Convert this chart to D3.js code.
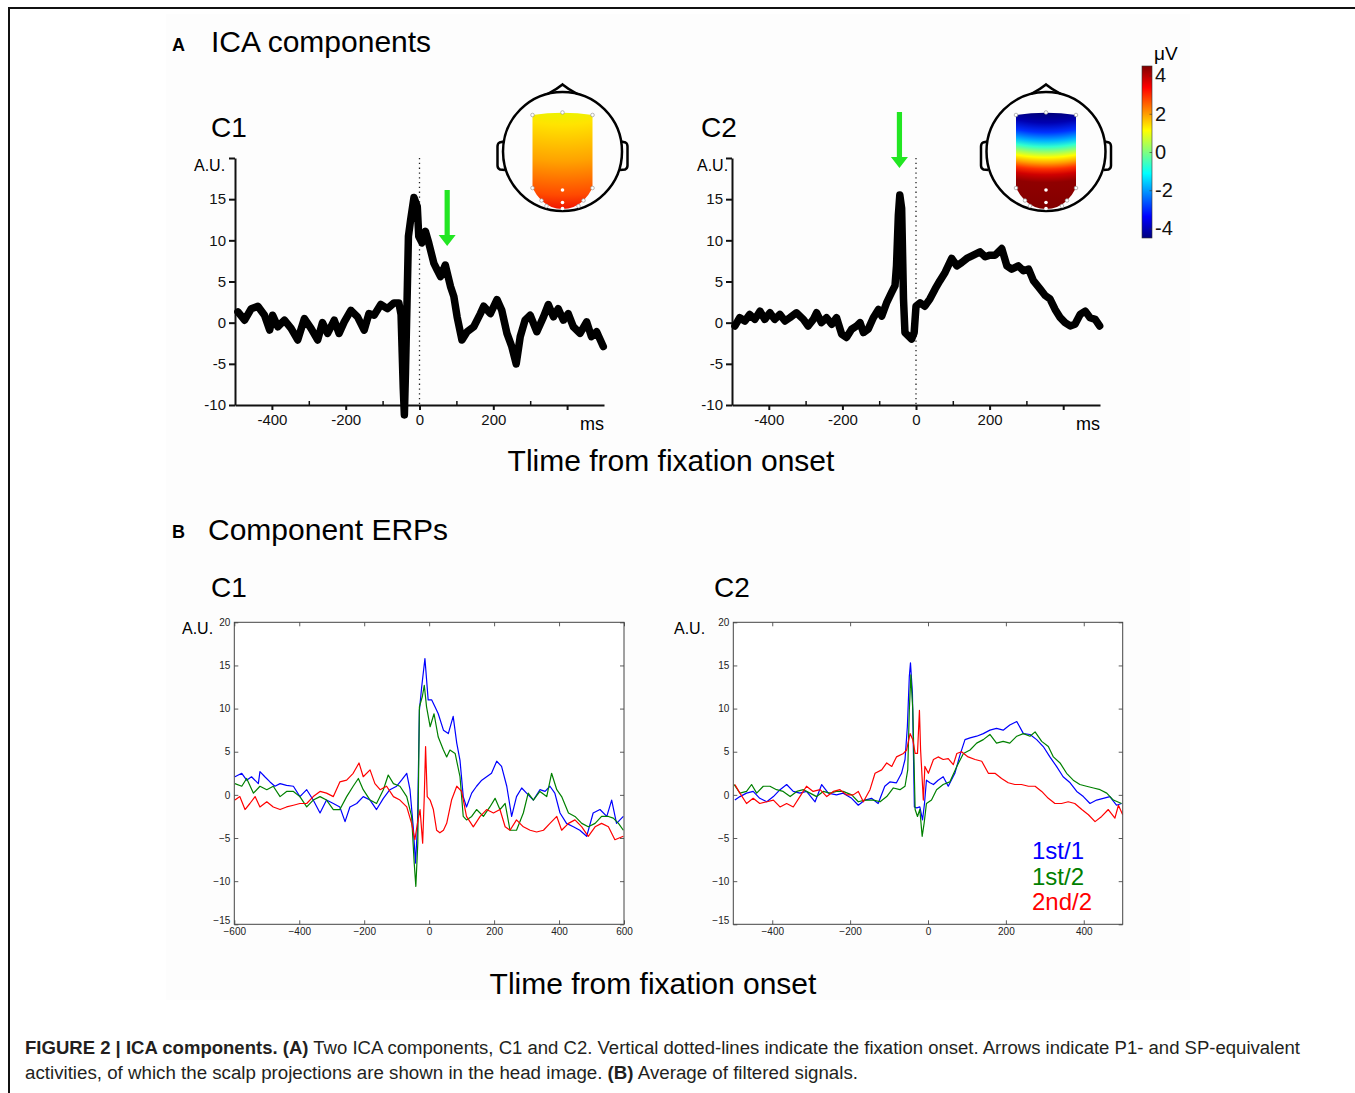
<!DOCTYPE html>
<html>
<head>
<meta charset="utf-8">
<script src="https://cdn.jsdelivr.net/npm/d3@7"></script>
<style>
  html, body { margin: 0; padding: 0; background: #ffffff; }
  svg { display: block; }
  text { font-family: "Liberation Sans", Arial, sans-serif; }
</style>
</head>
<body>
<svg id="fig" width="1355" height="1093"></svg>
<script>
// ---------------- DATA ----------------
// Panel A, component C1 (A.U. vs ms)
const compC1Times = [-492,-474,-456,-438,-420,-406,-398,-384,-366,-348,-330,-312,-294,-276,-263,-249,-231,-218,-204,-186,-168,-150,-137,-123,-105,-87,-69,-56,-50,-44,-41,-38,-34,-30,-24,-15,-6,-2,7,16,25,39,48,57,70,84,93,102,115,129,147,165,174,192,210,223,237,250,262,273,286,300,318,336,349,363,376,390,403,417,435,453,466,480,498];
const compC1Values = [1.3,0.3,1.7,2,0.9,-0.9,0.9,-0.5,0.3,-0.7,-2.1,0.5,-0.7,-2.1,0,-1.3,0.3,-1.3,0.1,1.5,0.7,-0.9,1.1,0.9,2.2,1.7,2.4,2.4,1.0,-8,-11.2,-6,2,10.5,12.5,15.2,14.1,10.5,9.7,11.1,9.7,7.2,6.4,5.6,7,4.4,3.2,0.7,-2.1,-1.1,-0.5,1.1,2,1.1,2.8,1.5,-1.3,-2.9,-5,-1.7,0.3,0.9,-1.1,0.7,2.2,0.7,1.7,0.3,1.1,-0.5,-1.3,0.1,-1.7,-1.1,-2.9];
// Panel A, component C2
const compC2Times = [-492,-479,-465,-452,-438,-424,-411,-397,-384,-370,-356,-343,-325,-306,-293,-279,-270,-257,-243,-229,-216,-202,-189,-175,-161,-152,-143,-130,-116,-102,-93,-80,-66,-57,-53,-48,-44,-39,-34,-30,-21,-12,-5,0,11,24,38,52,65,79,97,111,124,138,156,174,188,201,215,233,247,260,278,292,306,319,337,351,364,378,392,405,419,432,446,460,473,487,499];
const compC2Values = [-0.4,0.6,0.2,1,0.4,1.4,0.4,1.2,0.4,1,0.2,0.6,1.2,0.4,-0.4,0.4,1.2,0,0.6,-0.2,0.6,-1.4,-1.8,-0.8,-0.4,0,-1.2,-0.8,0.6,1.6,0.8,2.4,3.7,4.5,6.9,13,15.5,13.9,2.9,-1.2,-1.6,-2,-1.2,2,2.4,2,2.9,4.1,5.1,6.1,7.8,6.9,7.3,7.8,8.2,8.6,8,8.2,8.2,9,6.9,6.5,6.9,6.3,6.5,5.1,4.1,3.3,2.9,1.6,0.6,0,-0.4,-0.2,1,1.4,0.6,0.4,-0.4];

// Panel B, C1 ERPs
const erpC1BlueTimes = [-598,-577,-562,-547,-526,-521,-506,-490,-475,-459,-439,-418,-398,-377,-357,-336,-316,-295,-275,-259,-244,-223,-203,-182,-162,-141,-121,-100,-85,-69,-59,-49,-42,-36,-30,-23,-13,-3,8,18,28,44,59,74,85,95,105,115,131,146,162,177,192,208,223,239,254,269,285,300,321,341,357,372,387,403,423,444,464,485,505,526,547,562,577,598];
const erpC1BlueValues = [2.1,2.5,1.7,2.1,1.3,2.7,2.1,1.5,1,1.3,1.1,1,-0.2,0.6,-0.6,-2.1,-0.6,-1,-1.4,-3.1,-1.4,-1,-0.2,-0.6,-1.7,-0.4,0.6,1,1.7,2.5,0.6,-3.7,-7.9,-3.7,9.8,12.5,15.8,11,11,10.2,9.4,7.5,7.1,9.1,6,4,-0.2,-1.4,0.2,1,1.7,2.1,2.5,3.9,3.3,1,-2.5,-0.2,0.8,0.2,-0.6,0.6,0.4,1,0.2,-2.1,-3.3,-3.7,-4.1,-4.8,-2.1,-1.7,-2.5,-0.6,-3.3,-2.5];
const erpC1GreenTimes = [-598,-577,-562,-541,-521,-500,-480,-459,-439,-418,-398,-377,-357,-336,-316,-295,-275,-254,-234,-218,-203,-182,-162,-141,-126,-110,-90,-69,-54,-46,-41,-35,-30,-21,-15,-8,3,15,28,44,54,64,80,95,105,115,131,146,167,187,203,218,234,249,269,290,305,321,341,362,377,393,408,429,449,470,490,511,531,552,567,583,598];
const erpC1GreenValues = [1.3,1,1.9,0.2,1,0.6,1,-0.2,0.4,0.4,-0.2,-1.4,-0.6,-0.2,-0.6,-1.7,-1.7,-0.2,1,1.9,0.6,-0.6,-1,0.6,2.3,1.3,1,-0.2,-2.5,-7.9,-10.6,-5.6,10.2,11.4,12.7,10.2,7.9,9.4,6.7,5.2,4.4,5.2,4.8,2.1,-2.5,-2.9,-2.5,-1.7,-2.5,-1.4,-0.4,-1.7,-1,-4.1,-4.1,-2.1,0.2,-0.6,0.4,-0.2,2.5,0.6,-0.2,-2.1,-2.5,-3.3,-3.7,-3.3,-2.5,-2.5,-2.7,-3.3,-4.1];
const erpC1RedTimes = [-598,-583,-567,-552,-536,-521,-500,-480,-459,-439,-418,-398,-377,-357,-336,-316,-295,-275,-254,-234,-216,-203,-182,-167,-151,-131,-110,-90,-69,-54,-44,-36,-28,-20,-15,-11,-6,3,13,23,33,44,54,69,85,100,115,136,157,177,198,218,234,249,269,290,311,331,352,372,393,408,429,449,470,490,511,531,552,572,598];
const erpC1RedValues = [-0.6,-0.2,-1.7,-1,-0.2,-1.4,-0.8,-1.4,-1.7,-1.4,-1.2,-1,-1,-0.2,0.4,0.2,-0.2,1.5,1.7,2.5,3.7,2.1,2.9,1.3,0.6,1,-0.2,-0.6,-1.4,-3.3,-5.2,-3.3,-1.7,-5.6,-0.2,5.6,-0.2,-0.6,-1.7,-4.1,-4.4,-4.1,-3.3,-0.6,1,0.4,-2.5,-3.7,-2.5,-1.7,-2.1,-1.7,-3.7,-4.1,-2.9,-3.7,-4.1,-4.3,-4.1,-3.3,-2.5,-4.1,-3.3,-2.9,-3.7,-4.8,-3.7,-3.3,-3.7,-5.2,-4.8];

// Panel B, C2 ERPs
const erpC2BlueTimes = [-496,-483,-466,-449,-432,-414,-397,-380,-363,-346,-329,-312,-290,-273,-256,-235,-218,-196,-179,-162,-145,-128,-111,-98,-81,-68,-59,-53,-48,-45,-40,-35,-29,-21,-14,-9,-4,5,14,26,39,52,69,82,95,108,125,142,159,176,193,210,228,245,262,279,296,313,330,347,365,382,399,416,433,450,467,484,497];
const erpC2BlueValues = [-0.6,-0.2,0.2,0.4,-0.4,-0.8,-0.2,0.6,1.2,0.4,0.2,0.4,-0.8,1.2,0.2,0,0.2,-0.4,-1.2,-0.6,-0.4,-1,1,1.5,1.4,2.5,4.1,7.9,13.7,15.3,11.8,-1.4,-1.5,-1.4,-2.9,-1,1.7,1.4,1.2,1.7,2.1,1,2.5,4.6,6.4,6.6,6.8,7.1,7.5,7.7,7.5,8.1,8.5,7.1,7,6.4,5.6,4.4,3.3,2.1,1.4,0.4,-0.2,-1,-0.6,-0.4,-0.2,-1.2,-1];
const erpC2GreenTimes = [-498,-483,-466,-453,-440,-423,-406,-389,-372,-354,-337,-320,-303,-286,-269,-252,-235,-218,-196,-179,-162,-140,-123,-106,-89,-72,-59,-52,-48,-44,-39,-33,-27,-21,-15,-10,-4,9,22,39,56,74,91,108,125,142,159,176,193,210,228,245,262,275,292,309,322,339,356,373,390,407,425,442,459,476,497];
const erpC2GreenValues = [1.2,0.2,0.4,1.2,0.2,1,1,0.6,0.4,-0.2,0.4,0.6,0.2,-0.2,0.4,0.2,0.4,0.4,0,-0.8,-0.6,-0.6,-0.8,-0.2,0.8,0.6,1,2.9,9.8,13.9,9.8,-1.7,-2.5,-1.7,-4.8,-3.3,-1,-0.6,0.6,1.2,1.5,3.3,4.8,5.2,6,6.4,7,6,6.2,6,6.8,7.1,6.8,7.3,6.2,5.6,4.4,3.7,2.5,1.7,1.2,1,0.8,0.6,0.2,-0.6,-1];
const erpC2RedTimes = [-496,-483,-466,-449,-432,-414,-397,-380,-363,-346,-329,-312,-295,-277,-260,-243,-226,-209,-192,-179,-166,-149,-136,-119,-106,-93,-81,-63,-55,-46,-39,-33,-27,-22,-19,-12,-8,1,14,26,39,52,65,74,86,103,121,138,155,172,189,206,223,240,258,275,292,309,326,343,360,377,395,412,429,446,463,480,489,500];
const erpC2RedValues = [1.2,0.2,-1,-0.4,-1,-0.8,-0.6,-1.4,-1,-1.4,-0.2,1,0.4,0.6,-0.2,0.4,0.6,0,0,0.4,-0.8,0.6,2.5,2.9,3.7,3.3,4.4,4.8,5.2,7.1,6.4,4.8,4.8,9.8,5.2,-0.6,3.3,2.5,4.1,4.4,4.1,4.2,3.5,4.8,5,4.4,4.1,3.9,2.5,2.5,1.9,1.4,1.2,1.2,1,1,0.4,-0.4,-1,-1,-0.8,-1,-1.7,-2.3,-3.1,-2.5,-1.7,-2.7,-1.2,-2.3];

// Tick values / labels
const compYTicks = [-10, -5, 0, 5, 10, 15, 20];
const compXMajorTicks = [-400, -200, 0, 200, 400];
const compXMinorTicks = [-300, -100, 100, 300];
const erpYTicks = [-15, -10, -5, 0, 5, 10, 15, 20];
const erpC1XTicks = [-600, -400, -200, 0, 200, 400, 600];
const erpC2XTicks = [-400, -200, 0, 200, 400];
const colorbarTicks = [-4, -2, 0, 2, 4];
const legendLabels = ["1st/1", "1st/2", "2nd/2"];
const seriesColors = ["#0000ff", "#008000", "#ff0000"];
// Arrows: time, value at tail, value at tip
const arrowC1 = [75, 16.1, 9.3];
const arrowC2 = [-45, 25.6, 18.8];
// jet colormap stops
const jetStops = [[0, "#00007f"], [0.125, "#0000ff"], [0.375, "#00ffff"], [0.625, "#ffff00"], [0.875, "#ff0000"], [1, "#7f0000"]];
// topography colour stops (fraction from top of scalp patch)
const topoC1Stops = [[0, "#eef200"], [0.12, "#ffe400"], [0.5, "#ffa200"], [0.85, "#ff4a00"], [1, "#f01400"]];
const topoC2Stops = [[0, "#00007a"], [0.1, "#0000b0"], [0.2, "#0030ff"], [0.29, "#00b4ff"], [0.35, "#30ffd0"], [0.41, "#a0ff60"], [0.46, "#ffff00"], [0.52, "#ffa000"], [0.58, "#ff3000"], [0.64, "#d00000"], [0.72, "#900000"], [1, "#820000"]];

// ---------------- DRAWING ----------------
const svg = d3.select("#fig");
const defs = svg.append("defs");
const FONT = '"Liberation Sans", Arial, sans-serif';

// outer frame lines
svg.append("line").attr("x1", 8).attr("x2", 1355).attr("y1", 8).attr("y2", 8).attr("stroke", "#111").attr("stroke-width", 2);
svg.append("line").attr("x1", 9).attr("x2", 9).attr("y1", 8).attr("y2", 1093).attr("stroke", "#111").attr("stroke-width", 2);
// faint image background
svg.append("rect").attr("x", 166).attr("y", 14).attr("width", 1024).attr("height", 986).attr("fill", "#fdfdfd");

// section titles
svg.append("text").attr("x", 172).attr("y", 51).attr("font-size", 18).attr("font-weight", "bold").text("A");
svg.append("text").attr("x", 211).attr("y", 52).attr("font-size", 30).text("ICA components");
svg.append("text").attr("x", 172).attr("y", 538).attr("font-size", 18).attr("font-weight", "bold").text("B");
svg.append("text").attr("x", 208).attr("y", 540).attr("font-size", 30).text("Component ERPs");

// ---------- Panel A ----------
function compPanel(x0, x1, times, values, title, titleX, arrow, auX) {
  const x = d3.scaleLinear().domain([-500, 500]).range([x0, x1]);
  const y = d3.scaleLinear().domain([-10, 20]).range([405, 158]);
  const g = svg.append("g");
  g.append("text").attr("x", titleX).attr("y", 137).attr("font-size", 28).text(title);
  // y axis
  const ya = g.append("g").attr("transform", `translate(${x0},0)`)
    .call(d3.axisLeft(y).tickValues(compYTicks).tickSizeInner(6).tickSizeOuter(0).tickPadding(3)
      .tickFormat(d => d === 20 ? "" : d));
  ya.selectAll("path, line").attr("stroke", "#111").attr("stroke-width", 2);
  ya.selectAll("text").attr("font-size", 15).attr("font-family", FONT).attr("fill", "#111");
  g.append("text").attr("x", auX).attr("y", 171).attr("font-size", 16).text("A.U.");
  // x axis
  const xa = g.append("g").attr("transform", `translate(0,405)`)
    .call(d3.axisBottom(x).tickValues(compXMajorTicks).tickSizeInner(5).tickSizeOuter(0).tickPadding(4)
      .tickFormat(d => d === 400 ? "" : d));
  xa.selectAll("path, line").attr("stroke", "#111").attr("stroke-width", 2);
  xa.selectAll("text").attr("font-size", 15).attr("font-family", FONT).attr("fill", "#111");
  const xm = g.append("g").attr("transform", `translate(0,405)`)
    .call(d3.axisBottom(x).tickValues(compXMinorTicks).tickSize(-4).tickFormat(""));
  xm.select(".domain").remove();
  xm.selectAll("line").attr("stroke", "#111").attr("stroke-width", 1.5);
  g.append("text").attr("x", x(500)).attr("y", 430).attr("font-size", 18).attr("text-anchor", "end").text("ms");
  // dotted onset line
  g.append("line").attr("x1", x(0)).attr("x2", x(0)).attr("y1", y(20)).attr("y2", y(-10))
    .attr("stroke", "#222").attr("stroke-width", 1.3).attr("stroke-dasharray", "1.3,3.5");
  // trace
  const pts = times.map((t, i) => [t, values[i]]);
  g.append("path").datum(pts)
    .attr("d", d3.line().x(d => x(d[0])).y(d => y(d[1])))
    .attr("fill", "none").attr("stroke", "#000").attr("stroke-width", 7.5)
    .attr("stroke-linejoin", "round").attr("stroke-linecap", "round");
  // green arrow
  const ax = x(arrow[0]), yt = y(arrow[1]), yp = y(arrow[2]);
  const hh = 11, hw = 8.5, sw = 2.6;
  g.append("path")
    .attr("d", `M${ax - sw},${yt} L${ax + sw},${yt} L${ax + sw},${yp - hh} L${ax + hw},${yp - hh} L${ax},${yp} L${ax - hw},${yp - hh} L${ax - sw},${yp - hh} Z`)
    .attr("fill", "#22e622");
}
compPanel(235, 604, compC1Times, compC1Values, "C1", 211, arrowC1, 194);
compPanel(732, 1100, compC2Times, compC2Values, "C2", 701, arrowC2, 697);

svg.append("text").attr("x", 671).attr("y", 471).attr("font-size", 30).attr("text-anchor", "middle").text("Tlime from fixation onset");

// ---------- Heads ----------
function makeGradient(id, stops, cx, cy) {
  // radial gradient centred above the head so bands curve slightly
  const gcx = cx, gcy = cy - 170, R = 170 + 58;
  const top = 170 - 38.5, span = 58 + 38.5;
  const grad = defs.append("radialGradient").attr("id", id).attr("gradientUnits", "userSpaceOnUse")
    .attr("cx", gcx).attr("cy", gcy).attr("r", R).attr("fx", gcx).attr("fy", gcy);
  grad.selectAll("stop").data(stops).join("stop")
    .attr("offset", d => (top + d[0] * span) / R)
    .attr("stop-color", d => d[1]);
}
function drawHead(cx, cy, gradId) {
  const g = svg.append("g");
  const r = 59.5;
  // scalp patch
  const patch = `M${cx - 30},${cy - 36.5} Q${cx},${cy - 41} ${cx + 30},${cy - 36.5} L${cx + 30},${cy + 36.5} ` +
    `Q${cx + 26},${cy + 44} ${cx + 21},${cy + 49} Q${cx + 12},${cy + 57.5} ${cx},${cy + 57.5} ` +
    `Q${cx - 12},${cy + 57.5} ${cx - 21},${cy + 49} Q${cx - 26},${cy + 44} ${cx - 30},${cy + 36.5} Z`;
  g.append("path").attr("d", patch).attr("fill", `url(#${gradId})`);
  // head outline
  g.append("circle").attr("cx", cx).attr("cy", cy).attr("r", r).attr("fill", "none").attr("stroke", "#000").attr("stroke-width", 2.5);
  // nose
  g.append("path").attr("d", `M${cx - 15},${cy - 57.5} Q${cx - 6},${cy - 62} ${cx},${cy - 67} Q${cx + 6},${cy - 62} ${cx + 15},${cy - 57.5}`)
    .attr("fill", "none").attr("stroke", "#000").attr("stroke-width", 2.5);
  // ears
  [-1, 1].forEach(s => {
    g.append("path")
      .attr("d", `M${cx + s * 58.6},${cy - 10} L${cx + s * 63},${cy - 9} Q${cx + s * 65},${cy - 8} ${cx + s * 65},${cy - 5} L${cx + s * 65},${cy + 14} Q${cx + s * 65},${cy + 17} ${cx + s * 62.5},${cy + 18} L${cx + s * 57.5},${cy + 18.5}`)
      .attr("fill", "none").attr("stroke", "#000").attr("stroke-width", 2.5);
  });
  // electrodes
  const elec = [[-30, -36.5, 1], [0, -39, 1], [30, -36.5, 1], [-30, 36.5, 1], [0, 38.5, 0], [30, 36.5, 1],
    [-21, 49, 1], [0, 51, 0], [21, 49, 1], [-16, 54.5, 1], [0, 57, 0], [16, 54.5, 1]];
  g.selectAll("circle.e").data(elec).join("circle").attr("class", "e")
    .attr("cx", d => cx + d[0]).attr("cy", d => cy + d[1]).attr("r", 1.8)
    .attr("fill", "#fff").attr("stroke", d => d[2] ? "#999" : "none").attr("stroke-width", 0.7);
}
makeGradient("topo1", topoC1Stops, 562.5, 151.5);
makeGradient("topo2", topoC2Stops, 1046, 151.5);
drawHead(562.5, 151.5, "topo1");
drawHead(1046, 151.5, "topo2");

// ---------- Colorbar ----------
const cb = d3.scaleLinear().domain([-4.5, 4.5]).range([238, 66]);
const cbGrad = defs.append("linearGradient").attr("id", "jet").attr("x1", 0).attr("x2", 0).attr("y1", 1).attr("y2", 0);
cbGrad.selectAll("stop").data(jetStops).join("stop").attr("offset", d => d[0]).attr("stop-color", d => d[1]);
svg.append("rect").attr("x", 1142).attr("y", cb(4.5)).attr("width", 10).attr("height", cb(-4.5) - cb(4.5))
  .attr("fill", "url(#jet)").attr("stroke", "#333").attr("stroke-width", 0.6);
const cba = svg.append("g").attr("transform", "translate(1152,0)")
  .call(d3.axisRight(cb).tickValues(colorbarTicks).tickSize(-2.5).tickPadding(3).tickFormat(d => d));
cba.select(".domain").remove();
cba.selectAll("line").attr("stroke", "#333").attr("stroke-width", 0.6);
cba.selectAll("text").attr("font-size", 20).attr("font-family", FONT).attr("fill", "#111");
svg.append("text").attr("x", 1154).attr("y", 60).attr("font-size", 19).text("\u03bcV");

// ---------- Panel B ----------
function erpPanel(x0, x1, domain, xTicks, series, title, titleX, auX) {
  const x = d3.scaleLinear().domain(domain).range([x0, x1]);
  const y = d3.scaleLinear().domain([-15, 20]).range([924.3, 622.3]);
  const g = svg.append("g");
  g.append("text").attr("x", titleX).attr("y", 597).attr("font-size", 28).text(title);
  g.append("text").attr("x", auX).attr("y", 634).attr("font-size", 16).text("A.U.");
  g.append("rect").attr("x", x0).attr("y", y(20)).attr("width", x1 - x0).attr("height", y(-15) - y(20)).attr("fill", "#fff");
  const clipId = "clip" + Math.round(x0);
  defs.append("clipPath").attr("id", clipId).append("rect")
    .attr("x", x0).attr("y", y(20)).attr("width", x1 - x0).attr("height", y(-15) - y(20));
  series.forEach((s, i) => {
    const pts = s[0].map((t, k) => [t, s[1][k]]);
    g.append("path").datum(pts).attr("clip-path", `url(#${clipId})`)
      .attr("d", d3.line().x(d => x(d[0])).y(d => y(d[1])))
      .attr("fill", "none").attr("stroke", seriesColors[i]).attr("stroke-width", 1.2).attr("stroke-linejoin", "round");
  });
  const tickStyle = sel => {
    sel.select(".domain").remove();
    sel.selectAll("line").attr("stroke", "#333").attr("stroke-width", 0.8);
    sel.selectAll("text").attr("font-size", 10).attr("font-family", '"DejaVu Sans", sans-serif').attr("fill", "#222");
  };
  const fmt = d => (d < 0 ? "\u2212" + Math.abs(d) : "" + d);
  g.append("g").attr("transform", `translate(0,${y(-15)})`)
    .call(d3.axisBottom(x).tickValues(xTicks).tickSize(-4).tickPadding(4).tickFormat(fmt)).call(tickStyle);
  g.append("g").attr("transform", `translate(0,${y(20)})`)
    .call(d3.axisTop(x).tickValues(xTicks).tickSize(-4).tickFormat("")).call(tickStyle);
  const yl = g.append("g").attr("transform", `translate(${x0},0)`)
    .call(d3.axisLeft(y).tickValues(erpYTicks).tickSize(-4).tickPadding(4).tickFormat(fmt)).call(tickStyle);
  // lift the bottom-most y label slightly so it does not collide with the x label
  yl.selectAll(".tick").filter(d => d === -15).select("text").attr("dy", "-0.1em");
  g.append("g").attr("transform", `translate(${x1},0)`)
    .call(d3.axisRight(y).tickValues(erpYTicks).tickSize(-4).tickFormat("")).call(tickStyle);
  g.append("rect").attr("x", x0).attr("y", y(20)).attr("width", x1 - x0).attr("height", y(-15) - y(20))
    .attr("fill", "none").attr("stroke", "#444").attr("stroke-width", 1);
  return { x, y, g };
}
erpPanel(234.3, 624, [-600, 600], erpC1XTicks,
  [[erpC1BlueTimes, erpC1BlueValues], [erpC1GreenTimes, erpC1GreenValues], [erpC1RedTimes, erpC1RedValues]],
  "C1", 211, 182);
const p2 = erpPanel(733.3, 1122.7, [-500, 500], erpC2XTicks,
  [[erpC2BlueTimes, erpC2BlueValues], [erpC2GreenTimes, erpC2GreenValues], [erpC2RedTimes, erpC2RedValues]],
  "C2", 714, 674);
// legend
p2.g.selectAll("text.leg").data(legendLabels).join("text").attr("class", "leg")
  .attr("x", 1032).attr("y", (d, i) => 859 + i * 25.5).attr("font-size", 24)
  .attr("fill", (d, i) => seriesColors[i]).text(d => d);

svg.append("text").attr("x", 653).attr("y", 994).attr("font-size", 30).attr("text-anchor", "middle").text("Tlime from fixation onset");

// ---------- Caption ----------
const capFont = '"Liberation Sans Narrow", "Arial Narrow", "Liberation Sans", sans-serif';
const cap1 = svg.append("text").attr("x", 25).attr("y", 1054).attr("font-size", 18).attr("font-family", capFont)
  .attr("fill", "#231f20").attr("textLength", 1275).attr("lengthAdjust", "spacingAndGlyphs");
cap1.append("tspan").attr("font-weight", "bold").text("FIGURE 2 | ICA components. (A)");
cap1.append("tspan").text(" Two ICA components, C1 and C2. Vertical dotted-lines indicate the fixation onset. Arrows indicate P1- and SP-equivalent");
const cap2 = svg.append("text").attr("x", 25).attr("y", 1079).attr("font-size", 18).attr("font-family", capFont)
  .attr("fill", "#231f20").attr("textLength", 833).attr("lengthAdjust", "spacingAndGlyphs");
cap2.append("tspan").text("activities, of which the scalp projections are shown in the head image. ");
cap2.append("tspan").attr("font-weight", "bold").text("(B)");
cap2.append("tspan").text(" Average of filtered signals.");
</script>
</body>
</html>
